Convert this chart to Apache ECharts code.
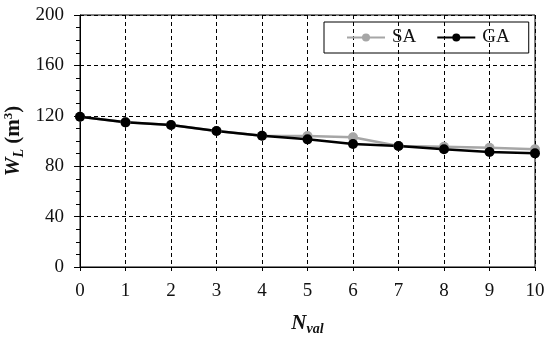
<!DOCTYPE html>
<html><head><meta charset="utf-8">
<script src="https://cdn.jsdelivr.net/npm/echarts@6/dist/echarts.min.js"></script>
<style>html,body{margin:0;padding:0;background:#fff}#c{width:550px;height:338px}</style>
</head><body><div id="c"></div>
<script>
const nval = [0,1,2,3,4,5,6,7,8,9,10];
const saValues = [119.3,114.8,112.7,107.9,104.2,104,103,96,95.5,94.7,93.5];
const gaValues = [119.3,114.8,112.7,107.9,104.2,101.3,97.6,96,93.4,91.3,90.2];
const seriesNames = ['SA','GA'];
const yTicks = [0,40,80,120,160,200];

const font = '"Liberation Serif", "Times New Roman", serif';
const chart = echarts.init(document.getElementById('c'));
chart.setOption({
  animation:false,
  textStyle:{fontFamily:font},
  grid:{left:80,right:15,top:15,bottom:71,show:true,borderColor:'#000',borderWidth:1,
        containLabel:false,outerBoundsMode:'none'},
  legend:{
    data:seriesNames, left:324, top:22,
    borderColor:'#000', borderWidth:1, padding:[6,19,6,22],
    itemWidth:38, itemHeight:10, itemGap:20,
    textStyle:{fontFamily:font,fontSize:19,color:'#111',padding:[0,0,0,2]}
  },
  xAxis:{
    type:'value', min:0, max:10, interval:1,
    axisLine:{lineStyle:{color:'#000',width:1}},
    axisTick:{show:true,length:4,lineStyle:{color:'#000'}},
    axisLabel:{fontFamily:font,fontSize:19,color:'#111',margin:15},
    splitLine:{show:true,lineStyle:{color:'#000',type:[4,3],width:1}},
    name:'{a|N}{b|val}', nameLocation:'middle', nameGap:45,
    nameTextStyle:{rich:{
      a:{fontFamily:font,fontSize:21,fontWeight:'bold',fontStyle:'italic',color:'#111'},
      b:{fontFamily:font,fontSize:14,fontWeight:'bold',fontStyle:'italic',color:'#111',padding:[10,0,0,0]}
    }}
  },
  yAxis:{
    type:'value', min:0, max:200, interval:40,
    axisLine:{show:true,lineStyle:{color:'#000',width:1}},
    axisTick:{show:true,length:6,lineStyle:{color:'#000'}},
    minorTick:{show:true,splitNumber:4,length:4,lineStyle:{color:'#000'}},
    axisLabel:{fontFamily:font,fontSize:19,color:'#111',margin:16,
      formatter:v=>yTicks.includes(v)?String(v):''},
    splitLine:{show:true,lineStyle:{color:'#000',type:[4,3],width:1}},
    name:'{a|W}{b|L}{c| (m}{d|3}{c|)}', nameLocation:'middle', nameGap:54, nameRotate:90,
    nameMoveOverlap:false,
    nameTextStyle:{rich:{
      a:{fontFamily:font,fontSize:21,fontWeight:'bold',fontStyle:'italic',color:'#111'},
      b:{fontFamily:font,fontSize:14,fontWeight:'bold',fontStyle:'italic',color:'#111',padding:[10,0,0,0]},
      c:{fontFamily:font,fontSize:21,fontWeight:'bold',color:'#111'},
      d:{fontFamily:font,fontSize:13,fontWeight:'bold',color:'#111',padding:[0,0,10,0]}
    }}
  },
  series:[
    {name:seriesNames[0],type:'line',data:nval.map((x,i)=>[x,saValues[i]]),
     symbol:'circle',symbolSize:10,itemStyle:{color:'#a6a6a6'},lineStyle:{color:'#a6a6a6',width:2.5}},
    {name:seriesNames[1],type:'line',data:nval.map((x,i)=>[x,gaValues[i]]),
     symbol:'circle',symbolSize:10,itemStyle:{color:'#000'},lineStyle:{color:'#000',width:2.5}}
  ]
});
</script></body></html>
